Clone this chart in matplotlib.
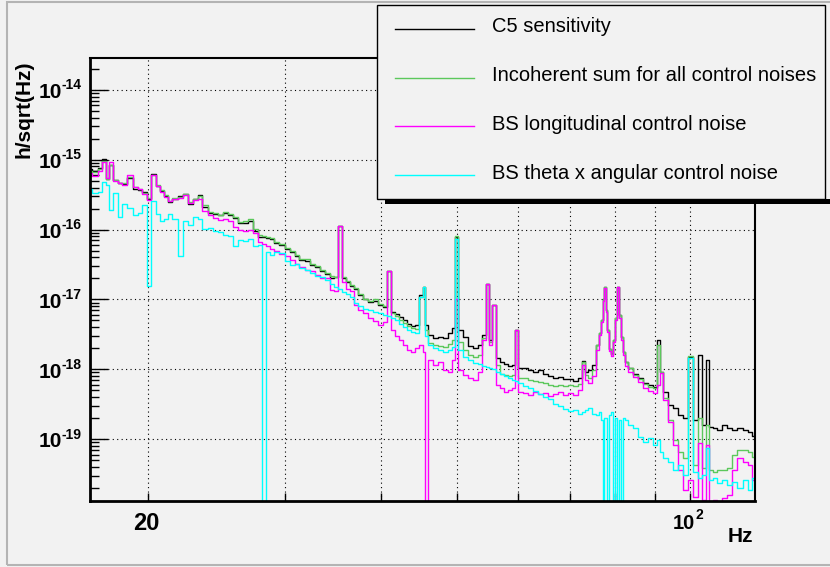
import matplotlib
matplotlib.use('Agg')
import matplotlib.pyplot as plt
from matplotlib.patches import Rectangle
from matplotlib.lines import Line2D
from matplotlib.ticker import FixedLocator, NullLocator, NullFormatter

plt.rcParams['font.family'] = 'Liberation Sans'

# frequency bins (Hz), shared by all four spectra
freq = [16.84, 17.09, 17.35, 17.56, 17.73, 17.92, 18.14, 18.41, 18.68, 18.96,
        19.25, 19.53, 19.82, 20.06, 20.36, 20.60, 20.85, 21.10, 21.35, 21.67,
        22.00, 22.33, 22.66, 23.00, 23.34, 23.69, 24.05, 24.41, 24.77, 25.14,
        25.52, 25.90, 26.29, 26.68, 27.08, 27.49, 27.90, 28.22, 28.56, 28.90,
        29.33, 29.77, 30.22, 30.67, 31.13, 31.59, 32.07, 32.55, 33.03, 33.53,
        34.03, 34.54, 34.95, 35.38, 35.79, 36.22, 36.65, 37.09, 37.54, 38.10,
        38.67, 39.25, 39.84, 40.44, 40.91, 41.40, 41.89, 42.39, 42.91, 43.41,
        43.93, 44.45, 44.99, 45.39, 45.66, 46.22, 46.91, 47.61, 48.32, 49.05,
        49.48, 50.00, 50.52, 51.28, 52.05, 52.82, 53.61, 54.25, 54.73, 55.31,
        55.88, 56.55, 57.23, 57.91, 58.60, 59.13, 59.75, 60.37, 61.27, 62.18,
        63.11, 64.05, 65.01, 65.98, 66.97, 67.97, 68.98, 70.01, 71.06, 72.12,
        72.76, 73.41, 74.29, 75.18, 75.88, 76.53, 76.99, 77.34, 77.67, 78.02,
        78.37, 78.83, 79.31, 79.78, 80.26, 80.66, 81.10, 81.58, 82.07, 82.68,
        83.65, 84.90, 86.17, 87.45, 88.76, 90.09, 90.95, 91.76, 92.80, 94.19,
        95.59, 97.02, 98.47, 100.2, 101.4, 103.0, 104.1, 105.2, 106.4, 107.6,
        109.2, 110.9, 112.5, 114.2, 115.9, 117.7, 119.4, 121.2]

c5_sens = [7.35e-16, 6.9e-16, 7.6e-16, 1.03e-15, 5.3e-16, 8.4e-16, 5.1e-16, 4.6e-16, 4.5e-16, 5.45e-16,
           3.8e-16, 3.7e-16, 3.45e-16, 2.73e-16, 6.2e-16, 4.2e-16, 3.55e-16, 3.0e-16, 2.48e-16, 2.73e-16,
           3.0e-16, 3.2e-16, 2.3e-16, 2.73e-16, 3.1e-16, 2.1e-16, 1.72e-16, 1.67e-16, 1.6e-16, 1.72e-16,
           1.6e-16, 1.46e-16, 1.24e-16, 1.24e-16, 1.32e-16, 9.4e-17, 7.72e-17, 7.72e-17, 7.47e-17, 7.23e-17,
           6.33e-17, 5.93e-17, 5.2e-17, 4.71e-17, 4.13e-17, 3.62e-17, 3.5e-17, 3.07e-17, 2.87e-17, 2.52e-17,
           2.28e-17, 2.0e-17, 2.07e-17, 1.12e-16, 2.0e-17, 1.75e-17, 1.54e-17, 1.39e-17, 1.14e-17, 1.0e-17,
           9.25e-18, 9.55e-18, 8.4e-18, 7.85e-18, 2.52e-17, 6.65e-18, 6.23e-18, 5.65e-18, 5.1e-18, 4.5e-18,
           4.2e-18, 4.35e-18, 1.14e-17, 1.49e-17, 4.35e-18, 3.1e-18, 2.82e-18, 2.92e-18, 2.82e-18, 3.33e-18,
           3.93e-18, 7.8e-17, 3.68e-18, 2.92e-18, 2.17e-18, 2.03e-18, 2.25e-18, 3.1e-18, 1.64e-17, 2.65e-18,
           8.4e-18, 1.46e-18, 1.28e-18, 1.2e-18, 1.12e-18, 1.16e-18, 3.68e-18, 1.05e-18, 1.05e-18, 9.8e-19,
           9.2e-19, 9.8e-19, 8.6e-19, 8.05e-19, 7.55e-19, 7.8e-19, 7.3e-19, 7.3e-19, 6.85e-19, 7.55e-19,
           1.32e-18, 9.2e-19, 9.8e-19, 1.16e-18, 2.25e-18, 3.33e-18, 5.1e-18, 1.0e-17, 1.49e-17, 7.1e-18,
           3.68e-18, 1.97e-18, 1.67e-18, 2.65e-18, 5.45e-18, 1.49e-17, 6.0e-18, 2.92e-18, 1.78e-18, 1.28e-18,
           1.05e-18, 8.6e-19, 7.55e-19, 6.4e-19, 5.97e-19, 5.6e-19, 2.65e-18, 9.2e-19, 4.76e-19, 3.1e-19,
           2.8e-19, 2.23e-19, 2.02e-19, 1.5e-18, 1.89e-19, 1.6e-18, 1.6e-19, 1.37e-18, 1.5e-19, 1.45e-19,
           1.36e-19, 1.6e-19, 1.45e-19, 1.36e-19, 1.45e-19, 1.36e-19, 1.27e-19, 1.12e-19]

ctrl_sum = [6.9e-16, 6.65e-16, 7.35e-16, 9.6e-16, 5.3e-16, 8.4e-16, 5.1e-16, 4.6e-16, 4.6e-16, 5.65e-16,
            4.05e-16, 3.8e-16, 3.3e-16, 2.82e-16, 6.0e-16, 4.35e-16, 3.7e-16, 3.1e-16, 2.56e-16, 2.82e-16,
            2.92e-16, 3.2e-16, 2.48e-16, 2.73e-16, 3.0e-16, 2.25e-16, 1.78e-16, 1.72e-16, 1.6e-16, 1.78e-16,
            1.67e-16, 1.5e-16, 1.28e-16, 1.32e-16, 1.41e-16, 1.02e-16, 8.24e-17, 7.98e-17, 7.72e-17, 7.47e-17,
            6.55e-17, 6.13e-17, 5.38e-17, 4.87e-17, 4.27e-17, 3.74e-17, 3.74e-17, 3.17e-17, 2.97e-17, 2.6e-17,
            2.36e-17, 2.14e-17, 2.07e-17, 1.12e-16, 2.07e-17, 1.81e-17, 1.59e-17, 1.44e-17, 1.18e-17, 1.0e-17,
            9.55e-18, 1.0e-17, 8.65e-18, 8.1e-18, 2.52e-17, 6.45e-18, 5.85e-18, 5.1e-18, 4.63e-18, 4.2e-18,
            3.93e-18, 3.8e-18, 1.1e-17, 1.49e-17, 3.68e-18, 2.4e-18, 2.25e-18, 2.17e-18, 2.1e-18, 2.32e-18,
            2.65e-18, 8.0e-17, 2.48e-18, 1.9e-18, 1.6e-18, 1.5e-18, 1.6e-18, 2.8e-18, 1.64e-17, 2.48e-18,
            8.4e-18, 1.16e-18, 8.6e-19, 8.3e-19, 8.05e-19, 8.3e-19, 3.68e-18, 7.55e-19, 7.55e-19, 7.1e-19,
            6.85e-19, 6.6e-19, 6.4e-19, 5.97e-19, 5.8e-19, 5.97e-19, 5.8e-19, 5.97e-19, 5.8e-19, 6.2e-19,
            1.28e-18, 8.3e-19, 7.55e-19, 9.8e-19, 2.25e-18, 3.33e-18, 5.1e-18, 1.0e-17, 1.49e-17, 7.1e-18,
            3.68e-18, 1.97e-18, 1.67e-18, 2.65e-18, 5.45e-18, 1.49e-17, 6.0e-18, 2.92e-18, 1.78e-18, 1.28e-18,
            1.05e-18, 8.3e-19, 7.3e-19, 6.2e-19, 5.6e-19, 5.42e-19, 2.25e-18, 9.2e-19, 3.9e-19, 1.89e-19,
            9.7e-20, 6.55e-20, 5.38e-20, 1.55e-18, 4.27e-20, 2.02e-19, 3.87e-20, 1.6e-19, 3.62e-20, 3.39e-20,
            3.62e-20, 3.62e-20, 3.87e-20, 5.93e-20, 7.0e-20, 6.9e-20, 6.55e-20, 5.55e-20]

# 1e-22 marks bins that drop to zero (off the bottom of the plot)
bs_long = [6.4e-16, 5.8e-16, 6.9e-16, 9.25e-16, 5.45e-16, 9.25e-16, 4.95e-16, 4.6e-16, 4.35e-16, 6.0e-16,
           4.05e-16, 3.8e-16, 3.2e-16, 2.65e-16, 6.0e-16, 4.2e-16, 3.45e-16, 2.92e-16, 2.56e-16, 2.73e-16,
           2.82e-16, 3.1e-16, 2.4e-16, 2.65e-16, 2.73e-16, 1.84e-16, 1.6e-16, 1.46e-16, 1.37e-16, 1.41e-16,
           1.32e-16, 1.09e-16, 9.7e-17, 9.4e-17, 9.7e-17, 8.8e-17, 6.55e-17, 6.13e-17, 5.74e-17, 5.2e-17,
           4.87e-17, 4.41e-17, 4.13e-17, 3.62e-17, 3.17e-17, 2.87e-17, 2.6e-17, 2.52e-17, 2.21e-17, 2.0e-17,
           2.0e-17, 1.35e-17, 1.3e-17, 1.12e-16, 1.75e-17, 1.39e-17, 1.3e-17, 8.4e-18, 7.1e-18, 6.45e-18,
           5.45e-18, 4.95e-18, 4.35e-18, 4.8e-18, 2.52e-17, 3.68e-18, 3.02e-18, 2.65e-18, 2.25e-18, 1.9e-18,
           1.78e-18, 2.03e-18, 2.25e-18, 1.78e-18, 1e-22, 1.37e-18, 1.16e-18, 1.28e-18, 9.8e-19, 9.2e-19,
           1.37e-18, 1.0e-17, 9.8e-19, 8.3e-19, 7.55e-19, 7.1e-19, 9.2e-19, 2.65e-18, 1.64e-17, 2.25e-18,
           8.4e-18, 5.97e-19, 5.42e-19, 4.76e-19, 5.08e-19, 5.42e-19, 3.68e-18, 4.76e-19, 4.6e-19, 4.3e-19,
           4.76e-19, 4.45e-19, 4.6e-19, 4.17e-19, 4.45e-19, 4.76e-19, 4.3e-19, 4.6e-19, 4.3e-19, 5.08e-19,
           1.16e-18, 7.1e-19, 6.4e-19, 8.05e-19, 1.9e-18, 3.1e-18, 4.8e-18, 9.55e-18, 1.44e-17, 6.65e-18,
           3.45e-18, 1.84e-18, 1.57e-18, 2.48e-18, 5.1e-18, 1.49e-17, 5.45e-18, 2.65e-18, 1.6e-18, 1.12e-18,
           9.2e-19, 7.8e-19, 6.6e-19, 5.42e-19, 4.92e-19, 4.6e-19, 5.97e-19, 8.9e-19, 3.65e-19, 1.78e-19,
           8.24e-20, 3.62e-20, 1.87e-20, 2.6e-20, 1.49e-20, 8.8e-20, 1.35e-20, 8.24e-20, 1e-22, 1.35e-20,
           1e-22, 1.44e-20, 1.59e-20, 3.62e-20, 5.38e-20, 4.71e-20, 4.27e-20, 2.6e-20]

bs_thetax = [3.8e-16, 3.3e-16, 3.45e-16, 4.8e-16, 4.35e-16, 1.9e-16, 3.3e-16, 1.5e-16, 2.3e-16, 2.03e-16,
             1.6e-16, 1.72e-16, 2.25e-16, 1.54e-17, 2.56e-16, 1.67e-16, 1.32e-16, 1.41e-16, 1.67e-16, 1.41e-16,
             4.13e-17, 1.32e-16, 1.16e-16, 1.5e-16, 1.41e-16, 1.02e-16, 1.05e-16, 9.4e-17, 9.1e-17, 8.24e-17,
             8.0e-17, 5.74e-17, 7.0e-17, 6.76e-17, 7.23e-17, 5.74e-17, 5.93e-17, 1e-22, 4.71e-17, 4.27e-17,
             4.71e-17, 4.56e-17, 3.5e-17, 3.07e-17, 3.17e-17, 2.78e-17, 2.6e-17, 2.36e-17, 2.14e-17, 2.07e-17,
             1.87e-17, 1.64e-17, 1.49e-17, 1.39e-17, 1.26e-17, 1.18e-17, 1.1e-17, 8.95e-18, 8.1e-18, 7.35e-18,
             7.1e-18, 6.65e-18, 6.45e-18, 6.0e-18, 5.85e-18, 5.45e-18, 5.13e-18, 4.5e-18, 4.05e-18, 3.68e-18,
             3.45e-18, 3.33e-18, 1.1e-17, 1.49e-17, 3.02e-18, 2.25e-18, 2.03e-18, 1.9e-18, 1.78e-18, 1.9e-18,
             2.1e-18, 7.23e-17, 1.9e-18, 1.5e-18, 1.37e-18, 1.24e-18, 1.2e-18, 1.12e-18, 1.09e-18, 1.05e-18,
             1.02e-18, 9.2e-19, 8.6e-19, 8.05e-19, 7.55e-19, 7.1e-19, 6.85e-19, 6.4e-19, 5.8e-19, 5.42e-19,
             4.92e-19, 4.45e-19, 4.03e-19, 3.78e-19, 3.2e-19, 3.0e-19, 2.72e-19, 2.54e-19, 2.63e-19, 2.3e-19,
             2.45e-19, 2.63e-19, 2.8e-19, 2.3e-19, 2.23e-19, 2.45e-19, 1.89e-19, 1e-22, 2.02e-19, 2.02e-19,
             1e-22, 2.23e-19, 2.45e-19, 1e-22, 2.02e-19, 1e-22, 1.89e-19, 1e-22, 2.02e-19, 1.89e-19,
             1.6e-19, 1.45e-19, 1.08e-19, 9.1e-20, 1.04e-19, 8.24e-20, 9.7e-20, 6.55e-20, 5.38e-20, 4.71e-20,
             3.62e-20, 4.27e-20, 3.07e-20, 1.46e-18, 3.39e-20, 2.78e-20, 3.07e-20, 7.47e-20, 2.6e-20, 2.78e-20,
             2.36e-20, 2.6e-20, 2.21e-20, 2.44e-20, 2.0e-20, 2.6e-20, 1.87e-20, 2.78e-20]

labels = ['C5 sensitivity', 'Incoherent sum for all control noises',
          'BS longitudinal control noise', 'BS theta x angular control noise']
colors = ['black', '#5cc85c', '#ff00ff', '#00ffff']
x_grid = [20, 30, 40, 50, 60, 70, 80, 90, 100]
y_decades = [-19, -18, -17, -16, -15, -14]

W, H = 830, 567
bg = '#f2f2f2'
fig = plt.figure(figsize=(W / 100, H / 100), dpi=100, facecolor=bg)
ax = fig.add_axes([90 / W, 66 / H, 665 / W, 443 / H])
ax.set_facecolor(bg)

for vals, c in zip([c5_sens, ctrl_sum, bs_long, bs_thetax], colors):
    ax.plot(freq, vals, drawstyle='steps-mid', color=c, lw=1.0)

ax.set_xscale('log')
ax.set_yscale('log')
ax.set_xlim(16.84, 121.2)
ax.set_ylim(1.3e-20, 2.86e-14)

ax.xaxis.set_major_locator(FixedLocator(x_grid))
ax.xaxis.set_minor_locator(NullLocator())
ax.yaxis.set_major_locator(FixedLocator([10.0 ** n for n in y_decades]))
ax.yaxis.set_minor_locator(FixedLocator([m * 10.0 ** n for n in range(-21, -13) for m in range(2, 10)]))
for a in (ax.xaxis, ax.yaxis):
    a.set_major_formatter(NullFormatter())
    a.set_minor_formatter(NullFormatter())

ax.tick_params(axis='y', which='major', direction='in', length=13, width=1, left=True, right=False)
ax.tick_params(axis='y', which='minor', direction='in', length=6.5, width=1, left=True, right=False)
ax.tick_params(axis='x', which='major', direction='in', length=5.8, width=1, bottom=True, top=False)

ax.set_axisbelow(True)
ax.grid(True, which='major', color='black', linestyle=(0, (1, 3)), lw=0.8)
for s in ['left', 'bottom']:
    ax.spines[s].set_linewidth(2)
for s in ['top', 'right']:
    ax.spines[s].set_linewidth(1.5)

# tick labels, ROOT style: "10" plus a small raised exponent
bold = dict(fontweight='bold', textcoords='offset points', va='baseline')
for n in y_decades:
    xy = (0, 10.0 ** n)
    ax.annotate('10', xy=xy, xycoords=('axes fraction', 'data'), xytext=(-20.4, -6.0),
                ha='right', fontsize=15, **bold)
    ax.annotate(str(n), xy=xy, xycoords=('axes fraction', 'data'), xytext=(-20.2, 0.3),
                ha='left', fontsize=10, **bold)
ax.annotate('20', xy=(20, 0), xycoords=('data', 'axes fraction'), xytext=(-1, -20.6),
            ha='center', fontsize=17, **bold)
ax.annotate('10', xy=(100, 0), xycoords=('data', 'axes fraction'), xytext=(3.6, -20.4),
            ha='right', fontsize=14.5, **bold)
ax.annotate('2', xy=(100, 0), xycoords=('data', 'axes fraction'), xytext=(3.8, -13.2),
            ha='left', fontsize=10, **bold)
ax.annotate('Hz', xy=(1, 0), xycoords='axes fraction', xytext=(-1.5, -29.5),
            ha='right', fontsize=15, **bold)
fig.text(24 / W, 1 - 60 / H, 'h/sqrt(Hz)', rotation=90, ha='center', va='top',
         fontsize=15, fontweight='bold')

# canvas border
fig.add_artist(Rectangle((7 / W, 2 / H), 830 / W, 563 / H, transform=fig.transFigure,
                         fill=False, edgecolor='#b4b4b4', lw=1.5))

# legend box with shadow
fig.add_artist(Rectangle((385 / W, 1 - 204 / H), 445 / W, 5 / H, transform=fig.transFigure,
                         facecolor='black', edgecolor='none'))
fig.add_artist(Rectangle((377 / W, 1 - 199 / H), 448 / W, 194 / H, transform=fig.transFigure,
                         facecolor=bg, edgecolor='black', lw=1))
for i, (lab, c) in enumerate(zip(labels, colors)):
    yp = 29 + i * 48.7
    fig.add_artist(Line2D([395 / W, 474 / W], [1 - yp / H, 1 - yp / H], transform=fig.transFigure,
                          color=c, lw=1))
    fig.text(492 / W, 1 - (yp + 3.5) / H, lab, ha='left', va='baseline', fontsize=14.5)

fig.savefig('out.png', dpi=100, facecolor=bg)
